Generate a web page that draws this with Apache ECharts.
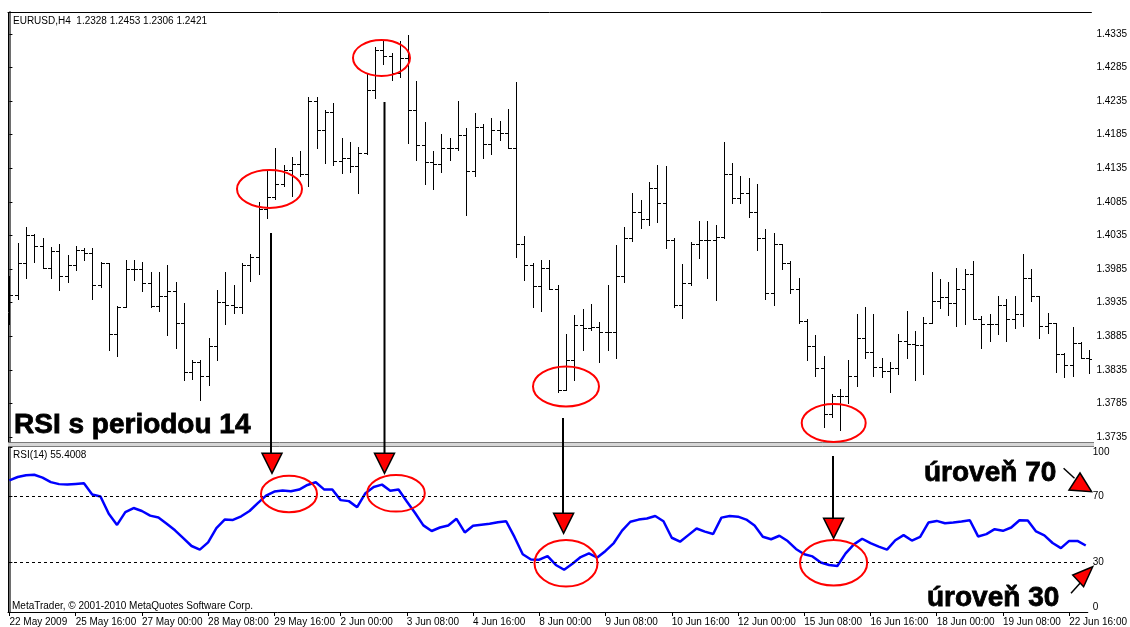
<!DOCTYPE html>
<html>
<head>
<meta charset="utf-8">
<title>EURUSD H4 - RSI</title>
<script src="https://cdn.jsdelivr.net/npm/echarts@6/dist/echarts.min.js"></script>
<style>
  html, body { margin: 0; padding: 0; background: #fff; }
  #chart { width: 1130px; height: 627px; }
</style>
</head>
<body>
<div id="chart"></div>
<script>
// popisky casove osy (kazdych 8 svicek H4)
const timeLabels = ['22 May 2009', '25 May 16:00', '27 May 00:00', '28 May 08:00', '29 May 16:00',
  '2 Jun 00:00', '3 Jun 08:00', '4 Jun 16:00', '8 Jun 00:00', '9 Jun 08:00', '10 Jun 16:00',
  '12 Jun 00:00', '15 Jun 08:00', '16 Jun 16:00', '18 Jun 00:00', '19 Jun 08:00', '22 Jun 16:00']
const labelStep = 8

// OHLC EURUSD H4
const opens = [
  1.3955, 1.3946, 1.3994, 1.4036, 1.4019, 1.3986, 1.4012, 1.3975, 1.3991, 1.4013,
  1.4009, 1.3961, 1.3994, 1.3889, 1.3928, 1.3985, 1.3985, 1.3964, 1.3930, 1.3945,
  1.3953, 1.3904, 1.3832, 1.3847, 1.3826, 1.3870, 1.3936, 1.3932, 1.3929, 1.3991,
  1.4003, 1.4074, 1.4092, 1.4112, 1.4132, 1.4141, 1.4126, 1.4235, 1.4192, 1.4219,
  1.4146, 1.4150, 1.4138, 1.4158, 1.4252, 1.4311, 1.4302, 1.4277, 1.4300, 1.4222,
  1.4169, 1.4145, 1.4141, 1.4165, 1.4165, 1.4185, 1.4131, 1.4196, 1.4171, 1.4192,
  1.4188, 1.4166, 1.4023, 1.3991, 1.3960, 1.3986, 1.3956, 1.3805, 1.3849, 1.3902,
  1.3897, 1.3899, 1.3892, 1.3892, 1.3975, 1.4031, 1.4070, 1.4059, 1.4105, 1.4083,
  1.4028, 1.3932, 1.3964, 1.4022, 1.4028, 1.4028, 1.4033, 1.4127, 1.4091, 1.4099,
  1.4070, 1.4031, 1.3950, 1.4022, 1.3994, 1.3956, 1.3907, 1.3870, 1.3837, 1.3769,
  1.3796, 1.3796, 1.3826, 1.3882, 1.3861, 1.3839, 1.3833, 1.3838, 1.3878, 1.3874,
  1.3872, 1.3905, 1.3938, 1.3943, 1.3935, 1.3956, 1.3978, 1.3910, 1.3903, 1.3903,
  1.3932, 1.3910, 1.3918, 1.3972, 1.3945, 1.3900, 1.3905, 1.3858, 1.3842, 1.3875,
  1.3852
]
const highs = [
  1.3975, 1.4024, 1.4047, 1.4037, 1.4031, 1.4018, 1.4023, 1.4006, 1.4019, 1.4017,
  1.4017, 1.3995, 1.3994, 1.3930, 1.3999, 1.3999, 1.3996, 1.3981, 1.3980, 1.3991,
  1.3966, 1.3935, 1.3850, 1.3850, 1.3882, 1.3954, 1.3980, 1.3961, 1.3994, 1.4008,
  1.4085, 1.4132, 1.4165, 1.4140, 1.4152, 1.4161, 1.4241, 1.4241, 1.4222, 1.4233,
  1.4180, 1.4174, 1.4167, 1.4276, 1.4316, 1.4326, 1.4306, 1.4324, 1.4334, 1.4265,
  1.4204, 1.4161, 1.4186, 1.4180, 1.4235, 1.4195, 1.4218, 1.4201, 1.4210, 1.4206,
  1.4224, 1.4264, 1.4034, 1.3994, 1.3999, 1.3999, 1.3962, 1.3889, 1.3917, 1.3925,
  1.3933, 1.3906, 1.3962, 1.4021, 1.4047, 1.4098, 1.4088, 1.4114, 1.4140, 1.4138,
  1.4032, 1.3992, 1.4026, 1.4057, 1.4057, 1.4051, 1.4174, 1.4143, 1.4124, 1.4121,
  1.4112, 1.4044, 1.4038, 1.4023, 1.3997, 1.3971, 1.3911, 1.3887, 1.3855, 1.3799,
  1.3807, 1.3849, 1.3918, 1.3929, 1.3918, 1.3852, 1.3847, 1.3889, 1.3923, 1.3893,
  1.3914, 1.3981, 1.3970, 1.3966, 1.3987, 1.3985, 1.3997, 1.3915, 1.3918, 1.3945,
  1.3940, 1.3945, 1.4008, 1.3985, 1.3945, 1.3919, 1.3905, 1.3860, 1.3899, 1.3877,
  1.3864
]
const lows = [
  1.3903, 1.3941, 1.3971, 1.3996, 1.3986, 1.3971, 1.3954, 1.3966, 1.3984, 1.3999,
  1.3941, 1.3959, 1.3864, 1.3856, 1.3928, 1.3969, 1.3953, 1.3929, 1.3922, 1.3887,
  1.3867, 1.3820, 1.3821, 1.3790, 1.3812, 1.3850, 1.3903, 1.3919, 1.3920, 1.3968,
  1.3978, 1.4061, 1.4089, 1.4109, 1.4094, 1.4123, 1.4108, 1.4166, 1.4143, 1.4140,
  1.4128, 1.4130, 1.4098, 1.4157, 1.4240, 1.4291, 1.4266, 1.4271, 1.4172, 1.4148,
  1.4111, 1.4104, 1.4130, 1.4147, 1.4163, 1.4066, 1.4123, 1.4151, 1.4157, 1.4177,
  1.4166, 1.4003, 1.3969, 1.3928, 1.3922, 1.3956, 1.3802, 1.3805, 1.3820, 1.3865,
  1.3894, 1.3847, 1.3864, 1.3852, 1.3966, 1.4027, 1.4046, 1.4051, 1.4055, 1.4016,
  1.3928, 1.3912, 1.3961, 1.4002, 1.3971, 1.3939, 1.4031, 1.4083, 1.4083, 1.4063,
  1.4013, 1.3941, 1.3932, 1.3985, 1.3949, 1.3905, 1.3849, 1.3826, 1.3750, 1.3765,
  1.3745, 1.3785, 1.3811, 1.3852, 1.3826, 1.3824, 1.3802, 1.3829, 1.3853, 1.3820,
  1.3829, 1.3904, 1.3927, 1.3917, 1.3901, 1.3903, 1.3910, 1.3867, 1.3878, 1.3889,
  1.3878, 1.3897, 1.3900, 1.3938, 1.3882, 1.3890, 1.3832, 1.3824, 1.3826, 1.3852,
  1.3830
]
const closes = [
  1.3946, 1.3994, 1.4036, 1.4019, 1.3986, 1.4012, 1.3975, 1.3991, 1.4013, 1.4009,
  1.3961, 1.3994, 1.3889, 1.3928, 1.3985, 1.3985, 1.3964, 1.3930, 1.3945, 1.3953,
  1.3904, 1.3832, 1.3847, 1.3826, 1.3870, 1.3936, 1.3932, 1.3929, 1.3991, 1.4003,
  1.4074, 1.4092, 1.4112, 1.4132, 1.4141, 1.4126, 1.4235, 1.4192, 1.4219, 1.4146,
  1.4150, 1.4138, 1.4158, 1.4252, 1.4311, 1.4302, 1.4277, 1.4300, 1.4222, 1.4169,
  1.4145, 1.4141, 1.4165, 1.4165, 1.4185, 1.4131, 1.4196, 1.4171, 1.4192, 1.4188,
  1.4166, 1.4023, 1.3991, 1.3960, 1.3986, 1.3956, 1.3805, 1.3849, 1.3902, 1.3897,
  1.3899, 1.3892, 1.3892, 1.3975, 1.4031, 1.4070, 1.4059, 1.4105, 1.4083, 1.4028,
  1.3932, 1.3964, 1.4022, 1.4028, 1.4028, 1.4033, 1.4127, 1.4091, 1.4099, 1.4070,
  1.4031, 1.3950, 1.4022, 1.3994, 1.3956, 1.3907, 1.3870, 1.3837, 1.3769, 1.3796,
  1.3796, 1.3826, 1.3882, 1.3861, 1.3839, 1.3833, 1.3838, 1.3878, 1.3874, 1.3872,
  1.3905, 1.3938, 1.3943, 1.3935, 1.3956, 1.3978, 1.3910, 1.3903, 1.3903, 1.3932,
  1.3910, 1.3918, 1.3972, 1.3945, 1.3900, 1.3905, 1.3858, 1.3842, 1.3875, 1.3852,
  1.3851
]

// RSI(14)
const rsiValues = [
  79.8, 81.8, 82.9, 83.2, 81.4, 78.7, 77.5, 77.2, 77.6, 78.0,
  71.2, 70.0, 59.5, 52.8, 60.5, 63.0, 61.2, 58.4, 57.3, 53.5,
  49.5, 44.8, 40.0, 37.8, 42.2, 50.8, 56.0, 55.8, 58.0, 61.2,
  66.0, 70.5, 73.0, 73.6, 73.2, 74.2, 77.0, 78.6, 74.3, 74.2,
  67.8, 67.2, 63.5, 72.0, 75.8, 77.2, 73.5, 74.2, 67.0, 60.0,
  52.5, 49.1, 51.2, 52.4, 56.5, 48.2, 52.3, 52.9, 53.5, 54.4,
  55.0, 45.5, 35.0, 31.8, 31.7, 33.9, 28.5, 25.6, 29.2, 33.3,
  35.5, 33.0, 37.0, 41.8, 49.3, 54.7, 56.0, 56.7, 58.2, 55.0,
  45.0, 42.6, 46.6, 50.6, 48.7, 47.3, 57.2, 58.2, 57.8, 56.0,
  52.4, 45.6, 44.1, 46.2, 43.0, 38.2, 35.0, 33.7, 30.0, 28.5,
  27.9, 35.5, 41.0, 44.4, 41.7, 39.6, 37.8, 43.5, 46.6, 43.3,
  45.5, 54.2, 55.2, 53.8, 54.2, 54.8, 55.6, 45.8, 47.2, 50.2,
  49.2, 51.2, 55.6, 55.5, 48.8, 46.4, 41.8, 38.7, 43.1, 43.1,
  40.3
]

// popisky osy Y
const priceTicks = [1.3735, 1.3785, 1.3835, 1.3885, 1.3935, 1.3985, 1.4035,
  1.4085, 1.4135, 1.4185, 1.4235, 1.4285, 1.4335]
const rsiTicks = [0, 30, 70, 100]
const rsiLevels = [70, 30]

const font = 'Liberation Sans, Arial, sans-serif'
const chart = echarts.init(document.getElementById('chart'))

const barData = opens.map((o, i) => [i, o, closes[i], lows[i], highs[i]])
const rsiData = rsiValues.map((v, i) => [i, v])
const labelIdx = timeLabels.map((t, k) => k * labelStep)

// vykresleni jedne OHLC svicky (svisla cara + open vlevo, close vpravo)
const renderOhlc = (params, api) => {
  const i = api.value(0)
  const hi = api.coord([i, api.value(4)])
  const lo = api.coord([i, api.value(3)])
  const op = api.coord([i, api.value(1)])
  const cl = api.coord([i, api.value(2)])
  const x = Math.round(hi[0]) + 0.5
  const yo = Math.round(op[1]) + 0.5
  const yc = Math.round(cl[1]) + 0.5
  const style = { stroke: '#000', lineWidth: 1 }
  return {
    type: 'group',
    children: [
      { type: 'line', shape: { x1: x, y1: Math.round(hi[1]), x2: x, y2: Math.round(lo[1]) + 1 }, style },
      { type: 'line', shape: { x1: x - 3.5, y1: yo, x2: x, y2: yo }, style },
      { type: 'line', shape: { x1: x, y1: yc, x2: x + 3.5, y2: yc }, style }
    ]
  }
}

const smallText = (x, y, text) => ({
  type: 'text', x, y,
  style: { text, fill: '#000', fontSize: 10, fontFamily: font, verticalAlign: 'middle' }
})
// velke tucne popisky (y = stred textu)
const bigText = (x, y, text) => ({
  type: 'text', z: 100, x, y,
  style: {
    text, fill: '#000', stroke: '#000', lineWidth: 0.8,
    fontSize: 28, fontWeight: 'bold', fontFamily: font, verticalAlign: 'middle'
  }
})

const ellipse = (cx, cy, rx, ry) => ({
  type: 'ellipse', z: 100, shape: { cx, cy, rx, ry },
  style: { fill: null, stroke: '#ff0000', lineWidth: 2 }
})
const shaft = (x, y1, y2) => ({
  type: 'line', z: 100, shape: { x1: x, y1, x2: x, y2 },
  style: { stroke: '#000', lineWidth: 2 }
})
const head = (points) => ({
  type: 'polygon', z: 101, shape: { points },
  style: { fill: '#ff0000', stroke: '#000', lineWidth: 1.5 }
})
const downHead = (x, y) => head([[x - 10, y], [x + 10, y], [x, y + 20]])

const xMin = -0.17
const xMax = 130.25

const option = {
  animation: false,
  backgroundColor: '#fff',
  grid: [
    { left: 8, top: 12, width: 1085, height: 430 },
    { left: 8, top: 447, width: 1085, height: 165 }
  ],
  xAxis: [
    {
      gridIndex: 0, type: 'value', position: 'top', min: xMin, max: xMax,
      axisLine: { show: true, lineStyle: { color: '#000', width: 1 } },
      axisTick: { show: false }, axisLabel: { show: false }, splitLine: { show: false }
    },
    {
      gridIndex: 1, type: 'value', min: xMin, max: xMax,
      axisLine: { show: true, lineStyle: { color: '#000', width: 1 } },
      axisTick: { show: true, customValues: labelIdx, length: 4, lineStyle: { color: '#000' } },
      axisLabel: {
        customValues: labelIdx,
        formatter: (v) => timeLabels[Math.round(v / labelStep)],
        align: 'left', margin: 5, fontSize: 10, color: '#000', fontFamily: font
      },
      splitLine: { show: false }
    }
  ],
  yAxis: [
    {
      gridIndex: 0, type: 'value', position: 'right', min: 1.372756, max: 1.436775,
      axisLine: { show: true, lineStyle: { color: '#6e6e6e', width: 2 } },
      axisTick: { show: true, customValues: priceTicks, length: 3, lineStyle: { color: '#000' } },
      axisLabel: {
        customValues: priceTicks, formatter: (v) => v.toFixed(4),
        margin: 5, fontSize: 10, color: '#000', fontFamily: font
      },
      splitLine: { show: false }
    },
    {
      gridIndex: 1, type: 'value', position: 'right', min: 0, max: 100,
      axisLine: { show: true, lineStyle: { color: '#6e6e6e', width: 2 } },
      axisTick: { show: true, customValues: rsiTicks, length: 3, lineStyle: { color: '#000' } },
      axisLabel: {
        customValues: rsiTicks,
        formatter: (v) => v === 100 ? '{top|100}' : (v === 0 ? '{bot|0}' : String(v)),
        rich: { top: { padding: [10, 0, 0, 0] }, bot: { padding: [0, 0, 10, 0] } },
        margin: 5, fontSize: 10, color: '#000', fontFamily: font
      },
      splitLine: { show: false }
    }
  ],
  series: [
    {
      name: 'EURUSD', type: 'custom', xAxisIndex: 0, yAxisIndex: 0,
      data: barData, encode: { x: 0, y: [1, 2, 3, 4] },
      renderItem: renderOhlc, clip: true
    },
    {
      name: 'RSI(14)', type: 'line', xAxisIndex: 1, yAxisIndex: 1,
      data: rsiData, showSymbol: false, smooth: false,
      lineStyle: { color: '#0000ff', width: 2.5 },
      markLine: {
        silent: true, symbol: 'none', label: { show: false },
        lineStyle: { color: '#000', type: [3, 3], width: 1 },
        data: rsiLevels.map((v) => ({ yAxis: v }))
      }
    }
  ],
  graphic: [
    // ramecek a oddelovac panelu
    { type: 'line', shape: { x1: 8.5, y1: 12, x2: 8.5, y2: 613 }, style: { stroke: '#000', lineWidth: 1 } },
    { type: 'rect', shape: { x: 8, y: 442, width: 1086, height: 5 }, style: { fill: '#d6d6d6' } },
    { type: 'line', shape: { x1: 8, y1: 442.5, x2: 1094, y2: 442.5 }, style: { stroke: '#7a7a7a', lineWidth: 1 } },
    { type: 'line', shape: { x1: 8, y1: 446.5, x2: 1094, y2: 446.5 }, style: { stroke: '#7a7a7a', lineWidth: 1 } },

    // texty MetaTraderu
    smallText(13, 21, 'EURUSD,H4  1.2328 1.2453 1.2306 1.2421'),
    smallText(13, 455, 'RSI(14) 55.4008'),
    smallText(12, 606.5, 'MetaTrader, © 2001-2010 MetaQuotes Software Corp.'),

    // popisky
    bigText(14, 425, 'RSI s periodou 14'),
    bigText(924, 473, 'úroveň 70'),
    bigText(927, 598, 'úroveň 30'),

    // krouzky
    ellipse(269.5, 189, 32.5, 19),
    ellipse(381.5, 58, 28.5, 18),
    ellipse(566, 386.5, 33, 20),
    ellipse(833.7, 423, 32, 19),
    ellipse(289, 494, 28, 18.3),
    ellipse(396, 493.3, 28.8, 18.3),
    ellipse(566, 563.3, 31.5, 23.3),
    ellipse(833.6, 562.8, 33.6, 22.8),

    // sipky
    shaft(271, 233, 455),
    shaft(384.5, 102, 455),
    shaft(563, 418, 515),
    shaft(833, 456, 520),
    downHead(272, 453.3),
    downHead(384.5, 453.3),
    downHead(563.6, 513.3),
    downHead(833.6, 518.3),
    { type: 'line', z: 100, shape: { x1: 1063.6, y1: 468.3, x2: 1074.5, y2: 478.3 }, style: { stroke: '#000', lineWidth: 1.5 } },
    head([[1080, 473], [1069, 490], [1091.6, 491.7]]),
    { type: 'line', z: 100, shape: { x1: 1071, y1: 593.3, x2: 1080, y2: 583.3 }, style: { stroke: '#000', lineWidth: 1.5 } },
    head([[1072.7, 575], [1083.6, 586.7], [1092.7, 566.7]])
  ]
}

chart.setOption(option)
</script>
</body>
</html>
